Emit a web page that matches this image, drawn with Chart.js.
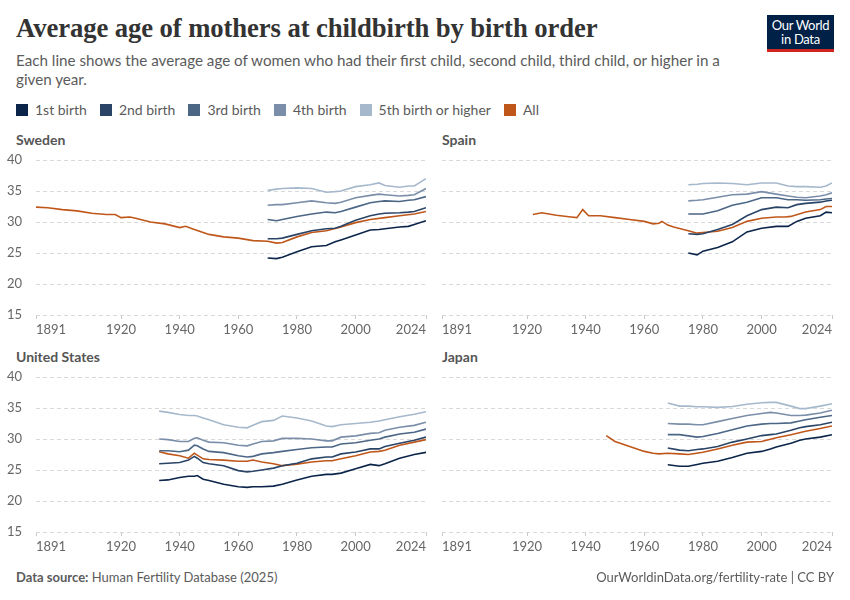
<!DOCTYPE html>
<html>
<head>
<meta charset="utf-8">
<script src="https://cdn.jsdelivr.net/npm/chart.js@4.4.1/dist/chart.umd.min.js"></script>
<style>
  html, body { margin: 0; padding: 0; background: #fff; }
  #page { position: relative; width: 850px; height: 600px; font-family: Lato, "Noto Sans", sans-serif; color: #5b5b5b; overflow: hidden; }
  #title { position: absolute; left: 16px; top: 13px; font-family: "Liberation Serif", serif; font-weight: bold; font-size: 26.7px; color: #333; letter-spacing: -0.1px; white-space: nowrap; }
  #subtitle { position: absolute; left: 16px; top: 51px; width: 720px; font-size: 15.2px; line-height: 19px; color: #5b5b5b; }
  #logo { position: absolute; left: 767px; top: 15px; width: 67px; background: #002147; border-bottom: 3px solid #ce261e; color: #fff; font-size: 13px; line-height: 14px; text-align: center; padding-top: 3px; height: 31px; letter-spacing: -0.3px; }
  #legend { position: absolute; left: 16px; top: 101px; display: flex; font-size: 14px; color: #5b5b5b; }
  #legend .item { display: flex; align-items: center; margin-right: 13px; }
  #legend .sw { width: 12px; height: 12px; margin-right: 7px; }
  .ptitle { position: absolute; font-size: 14px; font-weight: bold; color: #555; }
  canvas { position: absolute; }
  #foot-l { position: absolute; left: 16px; top: 569px; font-size: 13px; color: #5b5b5b; }
  #foot-r { position: absolute; right: 16px; top: 569px; font-size: 13px; color: #5b5b5b; }
</style>
</head>
<body>
<div id="page">
  <div id="title">Average age of mothers at childbirth by birth order</div>
  <div id="subtitle">Each line shows the average age of women who had their first child, second child, third child, or higher in a given year.</div>
  <div id="logo">Our World<br>in Data</div>
  <div id="legend"></div>
  <div class="ptitle" style="left:16px; top:131px;">Sweden</div>
  <div class="ptitle" style="left:442px; top:131px;">Spain</div>
  <div class="ptitle" style="left:16px; top:348px;">United States</div>
  <div class="ptitle" style="left:442px; top:348px;">Japan</div>
  <canvas id="c-swe" style="left:0px; top:150px;"></canvas>
  <canvas id="c-esp" style="left:420px; top:150px;"></canvas>
  <canvas id="c-usa" style="left:0px; top:367px;"></canvas>
  <canvas id="c-jpn" style="left:420px; top:367px;"></canvas>
  <div id="foot-l"><b>Data source:</b> Human Fertility Database (2025)</div>
  <div id="foot-r">OurWorldinData.org/fertility-rate | CC BY</div>
</div>
<script>
// Series labels and colours
const seriesNames = ['1st birth', '2nd birth', '3rd birth', '4th birth', '5th birth or higher', 'All'];
const seriesColors = ['#0b2449', '#2a4467', '#4c6686', '#7a8ea9', '#a6b8cc', '#c0571a'];
const xTicks = [1891, 1920, 1940, 1960, 1980, 2000, 2024];

// Sweden
const sweYears = [1970, 1973, 1975, 1980, 1985, 1990, 1993, 1995, 2000, 2005, 2008, 2010, 2015, 2018, 2020, 2024];
const swe1 = [24.2, 24.1, 24.3, 25.2, 26.0, 26.2, 26.8, 27.1, 27.9, 28.7, 28.8, 28.9, 29.2, 29.3, 29.6, 30.2];
const swe2 = [27.3, 27.3, 27.4, 28.0, 28.6, 28.9, 29.0, 29.3, 30.3, 31.0, 31.3, 31.4, 31.5, 31.6, 31.7, 32.3];
const swe3 = [30.4, 30.2, 30.4, 30.9, 31.3, 31.6, 31.5, 31.7, 32.4, 33.1, 33.3, 33.4, 33.3, 33.5, 33.6, 34.1];
const swe4 = [32.7, 32.8, 32.8, 33.1, 33.4, 33.1, 33.0, 33.2, 33.9, 34.3, 34.5, 34.4, 34.2, 34.3, 34.4, 35.4];
const swe5 = [35.1, 35.3, 35.4, 35.5, 35.4, 34.8, 34.9, 35.0, 35.7, 36.0, 36.3, 35.9, 35.6, 35.8, 35.8, 37.0];
const sweAllYears = [1891, 1895, 1900, 1905, 1910, 1915, 1918, 1920, 1923, 1925, 1930, 1935, 1940, 1942, 1945, 1950,
  1955, 1960, 1965, 1970, 1973, 1975, 1980, 1985, 1990, 1995, 2000, 2005, 2010, 2015, 2020, 2024];
const sweAll = [32.4, 32.3, 32.0, 31.8, 31.4, 31.2, 31.2, 30.7, 30.8, 30.6, 30.0, 29.7, 29.1, 29.3, 28.8, 28.0,
  27.6, 27.4, 27.0, 26.9, 26.6, 26.7, 27.6, 28.3, 28.6, 29.2, 29.9, 30.4, 30.7, 31.0, 31.3, 31.7];

// Spain
const espYears = [1975, 1978, 1980, 1985, 1990, 1995, 2000, 2005, 2009, 2012, 2015, 2020, 2022, 2024];
const esp1 = [25.0, 24.7, 25.3, 25.9, 26.8, 28.4, 29.0, 29.3, 29.3, 30.1, 30.6, 31.0, 31.6, 31.5];
const esp2 = [28.1, 28.0, 28.1, 28.8, 29.6, 31.0, 32.0, 32.4, 32.3, 32.8, 33.0, 33.2, 33.4, 33.5];
const esp3 = [31.3, 31.3, 31.3, 31.8, 32.7, 33.2, 33.9, 33.9, 33.6, 33.6, 33.5, 33.6, 33.7, 33.8];
const esp4 = [33.4, 33.5, 33.6, 34.0, 34.4, 34.5, 34.9, 34.5, 34.2, 34.0, 33.9, 34.2, 34.4, 34.7];
const esp5 = [36.0, 36.1, 36.2, 36.3, 36.2, 36.0, 36.3, 36.3, 35.8, 35.7, 35.7, 35.6, 35.8, 36.3];
const espAllYears = [1922, 1925, 1930, 1935, 1937, 1939, 1941, 1945, 1950, 1955, 1960, 1963, 1965, 1966, 1968,
  1970, 1975, 1978, 1980, 1985, 1990, 1995, 2000, 2005, 2008, 2010, 2015, 2020, 2022, 2024];
const espAll = [31.2, 31.5, 31.1, 30.8, 30.7, 32.0, 31.0, 31.0, 30.7, 30.4, 30.1, 29.7, 29.8, 30.1, 29.5,
  29.2, 28.6, 28.2, 28.3, 28.5, 29.1, 30.1, 30.6, 30.8, 30.8, 30.9, 31.6, 32.0, 32.5, 32.5];

// United States
const usaYears = [1933, 1936, 1940, 1943, 1945, 1946, 1948, 1950, 1955, 1960, 1963, 1965, 1968, 1972, 1975,
  1980, 1985, 1990, 1992, 1995, 2000, 2005, 2008, 2010, 2015, 2020, 2024];
const usa1 = [23.3, 23.4, 23.8, 24.0, 24.0, 24.1, 23.5, 23.3, 22.7, 22.3, 22.2, 22.3, 22.3, 22.4, 22.7,
  23.4, 24.0, 24.3, 24.3, 24.5, 25.2, 25.9, 25.7, 26.0, 26.9, 27.5, 27.85];
const usa2 = [26.0, 26.1, 26.2, 26.6, 27.2, 26.9, 26.2, 26.0, 25.7, 24.9, 24.7, 24.8, 25.0, 25.3, 25.7,
  26.1, 26.8, 27.1, 27.1, 27.6, 27.9, 28.4, 28.4, 28.8, 29.3, 29.8, 30.3];
const usa3 = [28.1, 28.1, 27.95, 28.2, 29.0, 28.9, 28.4, 28.0, 27.8, 27.3, 27.1, 27.2, 27.6, 27.8, 28.0,
  28.3, 28.6, 28.7, 28.7, 29.2, 29.4, 29.8, 30.0, 30.3, 30.8, 31.1, 31.6];
const usa4 = [30.0, 29.9, 29.6, 29.6, 30.1, 30.2, 29.8, 29.5, 29.4, 29.0, 28.9, 29.2, 29.6, 29.7, 30.1,
  30.1, 30.0, 29.7, 29.7, 30.3, 30.5, 30.9, 31.0, 31.4, 31.9, 32.2, 32.7];
const usa5 = [34.5, 34.3, 33.95, 33.8, 33.8, 33.7, 33.4, 33.1, 32.3, 31.9, 31.8, 32.2, 32.8, 33.0, 33.7,
  33.4, 32.9, 32.1, 32.0, 32.3, 32.5, 32.7, 32.9, 33.1, 33.6, 34.0, 34.4];
const usaAll = [27.95, 27.6, 27.3, 26.9, 27.7, 27.4, 26.8, 26.7, 26.6, 26.4, 26.4, 26.6, 26.3, 26.0, 25.7,
  25.95, 26.3, 26.5, 26.5, 26.8, 27.3, 27.9, 28.0, 28.2, 29.0, 29.5, 29.9];

// Japan
const jpnYears = [1968, 1972, 1975, 1978, 1980, 1985, 1990, 1995, 2000, 2003, 2005, 2010, 2013, 2015, 2020, 2024];
const jpn1 = [25.85, 25.6, 25.6, 25.9, 26.1, 26.4, 27.0, 27.7, 28.0, 28.4, 28.7, 29.3, 29.8, 30.0, 30.3, 30.7];
const jpn2 = [28.55, 28.2, 28.1, 28.3, 28.4, 28.8, 29.5, 30.0, 30.55, 30.7, 30.8, 31.4, 31.8, 32.0, 32.3, 32.7];
const jpn3 = [30.7, 30.7, 30.5, 30.3, 30.4, 30.9, 31.5, 32.1, 32.4, 32.5, 32.5, 32.6, 32.9, 33.1, 33.5, 33.8];
const jpn4 = [32.5, 32.4, 32.4, 32.3, 32.3, 32.8, 33.3, 33.8, 34.1, 34.3, 34.2, 33.8, 33.8, 33.85, 34.2, 34.65];
const jpn5 = [35.8, 35.3, 35.3, 35.2, 35.2, 35.1, 35.25, 35.6, 35.85, 35.9, 35.9, 35.3, 34.9, 34.9, 35.3, 35.7];
const jpnAllYears = [1947, 1950, 1955, 1960, 1963, 1965, 1968, 1972, 1975, 1980, 1985, 1990, 1995, 2000, 2005,
  2010, 2015, 2020, 2024];
const jpnAll = [30.55, 29.6, 28.8, 28.0, 27.7, 27.6, 27.7, 27.6, 27.5, 27.85, 28.4, 29.0, 29.5, 29.6, 30.2,
  30.7, 31.25, 31.7, 32.1];

// legend
const legend = document.getElementById('legend');
seriesNames.forEach(function(name, i) {
  const item = document.createElement('div');
  item.className = 'item';
  item.innerHTML = '<span class="sw" style="background:' + seriesColors[i] + '"></span>' + name;
  legend.appendChild(item);
});

function pts(years, values) {
  return years.map(function(y, i) { return { x: y, y: values[i] }; });
}

// dashed horizontal grid lines at the y ticks
const dashedGrid = {
  id: 'dashedGrid',
  beforeDatasetsDraw: function(chart) {
    const ctx = chart.ctx;
    const area = chart.chartArea;
    const y = chart.scales.y;
    ctx.save();
    ctx.strokeStyle = '#d9d9d9';
    ctx.lineWidth = 1;
    ctx.setLineDash([4, 3]);
    y.ticks.forEach(function(t) {
      const py = Math.round(y.getPixelForValue(t.value)) + 0.5;
      ctx.beginPath();
      ctx.moveTo(area.left, py);
      ctx.lineTo(area.right, py);
      ctx.stroke();
    });
    ctx.restore();
  }
};

function makePanel(id, width, yWidth, orderYears, orders, allYears, all) {
  const canvas = document.getElementById(id);
  canvas.style.width = width + 'px';
  canvas.style.height = '189px';
  const datasets = [];
  // lighter lines first, darker on top, orange last
  for (let i = 4; i >= 0; i--) {
    datasets.push({ label: seriesNames[i], data: pts(orderYears, orders[i]), borderColor: seriesColors[i] });
  }
  datasets.push({ label: 'All', data: pts(allYears, all), borderColor: seriesColors[5] });
  datasets.forEach(function(d) {
    d.borderWidth = 1.6;
    d.pointRadius = 0;
    d.tension = 0;
    d.fill = false;
  });
  return new Chart(canvas, {
    type: 'line',
    data: { datasets: datasets },
    plugins: [dashedGrid],
    options: {
      responsive: false,
      animation: false,
      devicePixelRatio: 1,
      layout: { padding: { top: 10, right: 4, left: 0, bottom: 0 } },
      plugins: { legend: { display: false }, tooltip: { enabled: false } },
      scales: {
        x: {
          type: 'linear',
          min: 1891,
          max: 2024,
          afterBuildTicks: function(scale) {
            scale.ticks = xTicks.map(function(v) { return { value: v }; });
          },
          afterFit: function(scale) { scale.height = 24; },
          ticks: {
            align: 'inner',
            maxRotation: 0,
            autoSkip: false,
            padding: 3,
            color: '#666',
            font: { family: 'Lato', size: 13 },
            callback: function(v) { return String(v); }
          },
          grid: { drawOnChartArea: false, color: '#c8c8c8', tickLength: 4 },
          border: { display: false }
        },
        y: {
          min: 15,
          max: 40,
          afterFit: function(scale) {
            // same plot height for every panel, labelled or not
            scale.width = yWidth;
            scale.paddingTop = 0;
            scale.paddingBottom = 0;
          },
          ticks: {
            stepSize: 5,
            display: yWidth > 30,
            padding: 6,
            color: '#666',
            font: { family: 'Lato', size: 13 }
          },
          grid: { display: false },
          border: { display: false }
        }
      }
    }
  });
}

makePanel('c-swe', 430, 36, sweYears, [swe1, swe2, swe3, swe4, swe5], sweAllYears, sweAll);
makePanel('c-esp', 416, 22, espYears, [esp1, esp2, esp3, esp4, esp5], espAllYears, espAll);
makePanel('c-usa', 430, 36, usaYears, [usa1, usa2, usa3, usa4, usa5], usaYears, usaAll);
makePanel('c-jpn', 416, 22, jpnYears, [jpn1, jpn2, jpn3, jpn4, jpn5], jpnAllYears, jpnAll);
</script>
</body>
</html>
